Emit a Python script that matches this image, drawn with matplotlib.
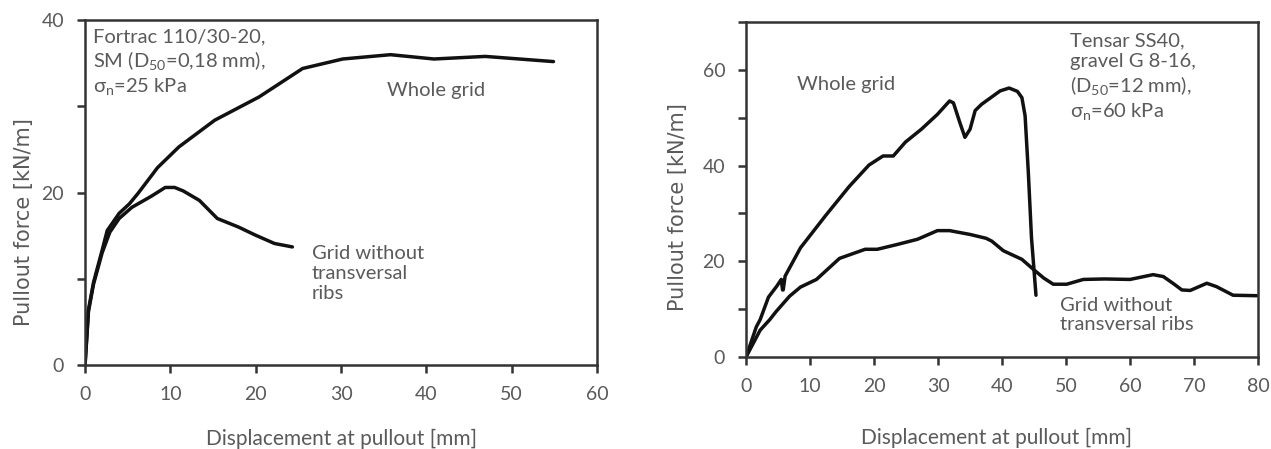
import matplotlib
matplotlib.use("Agg")
import matplotlib.pyplot as plt

FONT = "Lato"
plt.rcParams['font.family'] = [FONT, 'DejaVu Sans']
plt.rcParams['mathtext.fontset'] = 'custom'
plt.rcParams['mathtext.rm'] = FONT
plt.rcParams['mathtext.it'] = FONT

TEXT = '#5a5a5a'
SPINE = '#333333'
LINE = '#111111'

# left panel: Fortrac 110/30-20, SM sand
left_whole_x = [0, 0.4, 1.0, 2.0, 2.6, 4.0, 5.2, 6.2, 7.2, 8.5, 11.0, 15.2, 20.4,
                25.5, 30.2, 35.8, 40.9, 46.9, 54.9]
left_whole_y = [0, 6.4, 9.6, 13.3, 15.6, 17.6, 18.7, 19.9, 21.2, 22.9, 25.3, 28.4,
                31.1, 34.4, 35.5, 36.0, 35.5, 35.8, 35.2]
left_noribs_x = [0, 0.4, 1.0, 2.0, 2.9, 4.0, 5.5, 7.8, 9.4, 10.5, 11.5, 13.4, 15.5,
                 18.0, 19.9, 22.2, 24.3]
left_noribs_y = [0, 6.2, 9.4, 13.0, 15.4, 17.0, 18.3, 19.6, 20.6, 20.6, 20.2, 19.1,
                 17.0, 16.0, 15.1, 14.1, 13.7]

# right panel: Tensar SS40, gravel G 8-16
right_whole_x = [0, 1.6, 2.2, 3.5, 4.8, 5.5, 5.7, 5.8, 6.1, 8.5, 12.4, 16.1, 19.2,
                 21.4, 23.0, 24.9, 27.4, 29.9, 31.8, 32.4, 33.4, 34.2, 35.0, 35.8,
                 36.8, 39.7, 41.1, 42.4, 43.1, 43.6, 44.1, 44.6, 45.3]
right_whole_y = [0, 6.3, 7.8, 12.5, 14.8, 16.2, 14.0, 14.0, 16.9, 22.8, 29.5, 35.6,
                 40.1, 42.0, 42.0, 44.9, 47.6, 50.7, 53.5, 53.1, 49.0, 45.9, 47.6,
                 51.5, 52.8, 55.6, 56.2, 55.5, 54.2, 50.4, 38.7, 24.9, 12.9]
right_noribs_x = [0, 2.2, 3.7, 4.7, 6.8, 8.5, 11.0, 14.6, 18.6, 20.5, 23.6, 26.8,
                  29.9, 31.8, 35.0, 37.5, 38.4, 40.2, 43.1, 44.9, 46.5, 48.0, 50.1,
                  52.7, 56.0, 60.0, 63.6, 65.2, 66.8, 68.1, 69.4, 72.0, 73.5, 76.1,
                  79.8]
right_noribs_y = [0, 5.6, 7.8, 9.5, 12.7, 14.6, 16.2, 20.6, 22.5, 22.5, 23.5, 24.6,
                  26.4, 26.4, 25.6, 24.8, 24.2, 22.2, 20.4, 18.3, 16.5, 15.2, 15.2,
                  16.2, 16.3, 16.2, 17.2, 16.8, 15.3, 14.0, 13.9, 15.4, 14.7, 12.9,
                  12.8]


def style(ax, xmax, ymax, ystep):
    ax.set_xlim(0, xmax)
    ax.set_ylim(0, ymax)
    ax.set_xticks(range(0, xmax + 1, 10))
    ax.set_yticks(range(0, ymax + 1, ystep))
    ax.set_yticklabels([str(v) if v % 20 == 0 else '' for v in range(0, ymax + 1, ystep)])
    ax.tick_params(direction='out', length=6, width=1.8, color=SPINE,
                   labelcolor=TEXT, labelsize=14, pad=9)
    for sp in ax.spines.values():
        sp.set_color(SPINE)
        sp.set_linewidth(1.8)
    ax.set_xlabel('Displacement at pullout [mm]', color=TEXT, fontsize=15)
    # the y label is wider-set in the original, DejaVu comes closer
    ax.set_ylabel('Pullout force [kN/m]', color=TEXT, fontsize=15,
                  family='DejaVu Sans')


fig = plt.figure(figsize=(12.71, 4.49), dpi=100, facecolor='white')
ax1 = fig.add_axes([0.0669, 0.187, 0.4028, 0.768])
ax2 = fig.add_axes([0.587, 0.205, 0.4028, 0.746])

style(ax1, 60, 40, 10)
ax1.xaxis.set_label_coords(0.5, -0.185)
ax1.yaxis.set_label_coords(-0.10, 0.414)
ax1.plot(left_whole_x, left_whole_y, color=LINE, lw=2.5, solid_capstyle='round')
ax1.plot(left_noribs_x, left_noribs_y, color=LINE, lw=2.5, solid_capstyle='round')
ax1.text(0.015, 0.975,
         'Fortrac 110/30-20,\nSM (D$_{50}$=0,18 mm),\n\u03c3$_{n}$=25 kPa',
         transform=ax1.transAxes, ha='left', va='top', color=TEXT,
         fontsize=14.5, linespacing=1.2)
ax1.text(35.4, 31.8, 'Whole grid', color=TEXT, fontsize=14.5, va='center')
ax1.text(26.6, 13.9, 'Grid without\ntransversal\nribs', color=TEXT, fontsize=14.5,
         va='top', linespacing=1.2)

style(ax2, 80, 70, 10)
ax2.xaxis.set_label_coords(0.49, -0.213)
ax2.yaxis.set_label_coords(-0.113, 0.448)
ax2.plot(right_whole_x, right_whole_y, color=LINE, lw=2.5, solid_capstyle='round')
ax2.plot(right_noribs_x, right_noribs_y, color=LINE, lw=2.5, solid_capstyle='round')
ax2.text(0.632, 0.97,
         'Tensar SS40,\ngravel G 8-16,\n(D$_{50}$=12 mm),\n\u03c3$_{n}$=60 kPa',
         transform=ax2.transAxes, ha='left', va='top', color=TEXT,
         fontsize=14.5, linespacing=1.25)
ax2.text(8.0, 57.0, 'Whole grid', color=TEXT, fontsize=14.5, va='center')
ax2.text(49.0, 12.6, 'Grid without\ntransversal ribs', color=TEXT, fontsize=14.5,
         va='top', linespacing=1.2)

fig.savefig('out.png', dpi=100, facecolor='white')
